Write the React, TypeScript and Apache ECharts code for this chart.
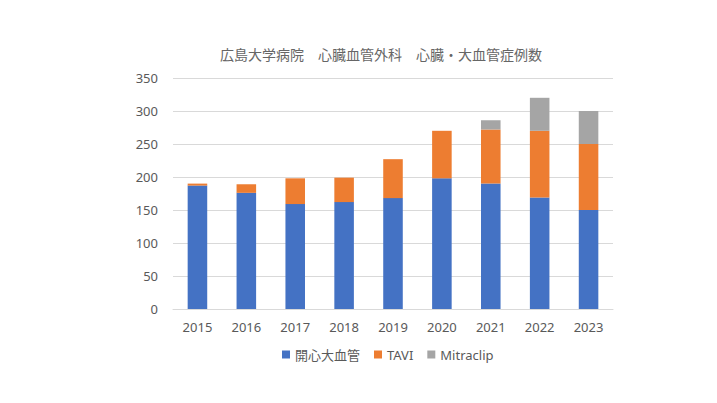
import React, { useEffect, useRef } from "react";
import * as echarts from "echarts";

const years = ["2015", "2016", "2017", "2018", "2019", "2020", "2021", "2022", "2023"];
const openHeart = [187, 176, 159, 162, 168, 198, 190, 169, 150];
const tavi = [3, 13, 39, 37, 59, 72, 82, 101, 100];
const mitraclip = [0, 0, 0, 0, 0, 0, 14, 50, 50];
const seriesNames = ["開心大血管", "TAVI", "Mitraclip"];
const colors = ["#4472C4", "#ED7D31", "#A5A5A5"];

const FONT = "'Noto Sans', 'Noto Sans CJK JP', sans-serif";

export default function App() {
  const ref = useRef<HTMLDivElement>(null);
  useEffect(() => {
    if (!ref.current) return;
    const chart = echarts.init(ref.current, null, { renderer: "svg" });
    const data = [openHeart, tavi, mitraclip];
    chart.setOption({
      animation: false,
      backgroundColor: "#ffffff",
      title: {
        text: "広島大学病院　心臓血管外科　心臓・大血管症例数",
        left: 215,
        top: 42,
        textStyle: { fontFamily: FONT, fontSize: 14, fontWeight: "normal", color: "#666666" },
      },
      legend: {
        left: 277,
        top: 343,
        itemWidth: 8,
        itemHeight: 8,
        itemGap: 14,
        icon: "rect",
        textStyle: { fontFamily: FONT, fontSize: 13, color: "#595959" },
        data: seriesNames,
      },
      grid: { left: 173, right: 104, top: 78, bottom: 94 },
      xAxis: {
        type: "category",
        data: years,
        axisLine: { lineStyle: { color: "#d9d9d9" } },
        axisTick: { show: false },
        axisLabel: { fontFamily: FONT, fontSize: 13, color: "#595959", margin: 11 },
      },
      yAxis: {
        type: "value",
        min: 0,
        max: 350,
        interval: 50,
        axisLine: { show: false },
        axisTick: { show: false },
        splitLine: { lineStyle: { color: "#d9d9d9" } },
        axisLabel: { fontFamily: FONT, fontSize: 13, color: "#595959", margin: 15 },
      },
      series: seriesNames.map((name, i) => ({
        name,
        type: "bar",
        stack: "total",
        barWidth: "40%",
        itemStyle: { color: colors[i] },
        data: data[i],
      })),
    });
    return () => chart.dispose();
  }, []);
  return (
    <div
      ref={ref}
      style={{ position: "fixed", left: 0, top: 0, width: 717, height: 403 }}
    />
  );
}
